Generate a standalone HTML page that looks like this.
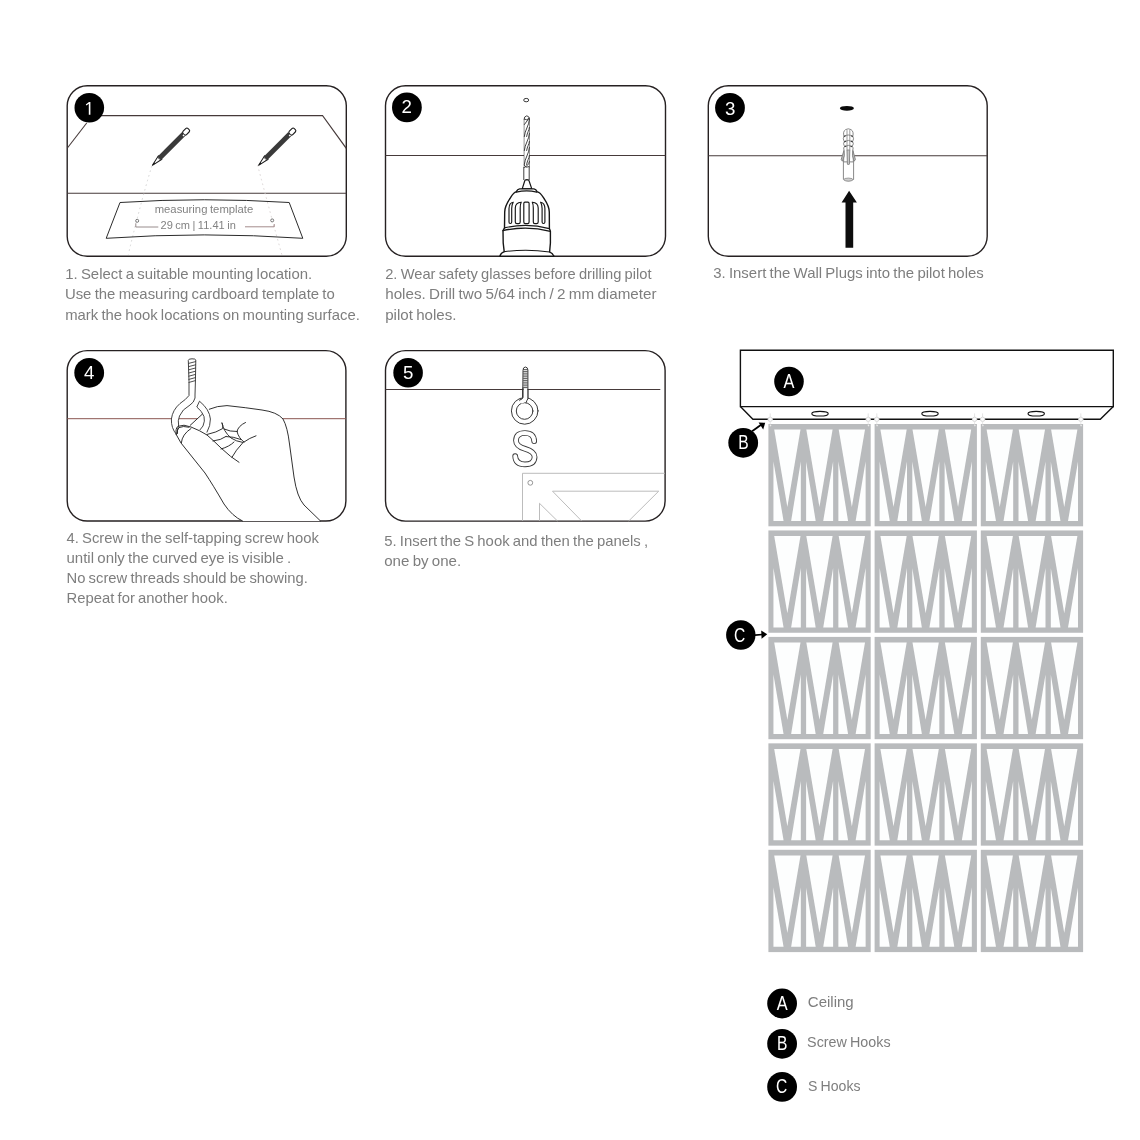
<!DOCTYPE html>
<html><head><meta charset="utf-8"><title>Installation instructions</title>
<style>
html,body{margin:0;padding:0;background:#fff;}
body{width:1140px;height:1140px;overflow:hidden;font-family:"Liberation Sans",sans-serif;}
svg{display:block;position:absolute;left:0;top:0;will-change:transform;}
text{font-family:"Liberation Sans",sans-serif;}
.cap{font-size:15px;fill:#7e7e7e;word-spacing:-0.9px;}
.sm{font-size:11.6px;fill:#828282;word-spacing:-0.6px;}
.num{font-size:18.7px;fill:#fff;text-anchor:middle;}
.let{font-size:19.5px;fill:#fff;text-anchor:middle;}
.box{fill:none;stroke:#262122;stroke-width:1.4;}
.ln{fill:none;stroke:#463a3a;stroke-width:1.1;}
.dk{fill:none;stroke:#1c1c1c;stroke-width:1;stroke-linecap:round;stroke-linejoin:round;}
.lt{fill:none;stroke:#a9a9a9;stroke-width:0.9;}
</style></head><body>
<svg width="1140" height="1140" viewBox="0 0 1140 1140">
<rect x="0" y="0" width="1140" height="1140" fill="#ffffff"/>
<defs>
<g id="pn">
<rect x="0" y="0" width="102.3" height="102.3" fill="#b9bbbd"/>
<g fill="#fdfefe">
<polygon points="5.8,5.6 32.1,5.6 18.95,82.9"/>
<polygon points="5.05,37.6 5.05,97 15.17,97"/>
<polygon points="32.4,37.6 32.4,97 22.73,97"/>
<polygon points="37.9,5.6 64.2,5.6 51.05,82.9"/>
<polygon points="37.7,37.6 37.7,97 47.27,97"/>
<polygon points="64.7,37.6 64.7,97 54.83,97"/>
<polygon points="70.3,5.6 96.6,5.6 83.45,82.9"/>
<polygon points="70,37.6 70,97 79.67,97"/>
<polygon points="97.2,37.6 97.2,97 87.23,97"/>
</g>
</g>
</defs>

<!-- ===== BOXES ===== -->
<g id="boxes">
<rect class="box" x="67.2" y="85.8" width="279.1" height="170.5" rx="20" ry="20"/>
<rect class="box" x="385.5" y="85.8" width="280" height="170.5" rx="20" ry="20"/>
<rect class="box" x="708.3" y="85.8" width="278.9" height="170.5" rx="20" ry="20"/>
<rect class="box" x="67.2" y="350.6" width="278.7" height="170.4" rx="20" ry="20"/>
<rect class="box" x="385.5" y="350.6" width="279.6" height="170.5" rx="20" ry="20"/>
</g>

<!-- ===== STEP 1 ===== -->
<g id="s1">
<path class="ln" d="M88,115.5 H322.5 L346.3,148.3" style="stroke-width:1.25"/>
<path class="ln" d="M86.7,123 L67.4,148"/>
<path class="ln" d="M67.2,193.3 H346.3"/>
<!-- dotted guide lines -->
<path d="M151.8,166 Q140,205 128.3,254.5" fill="none" stroke="#cfcfcf" stroke-width="0.9" stroke-dasharray="1.6 3.2"/>
<path d="M257.6,165 Q268,205 281.8,254.5" fill="none" stroke="#d6cfcf" stroke-width="0.9" stroke-dasharray="1.6 3.2"/>
<!-- measuring template -->
<path d="M120,202.5 Q204,197 289.2,202.5 L302.8,238.3 Q204,231.5 106.2,238.3 Z" fill="none" stroke="#2b2b2b" stroke-width="1" stroke-linejoin="miter"/>
<circle cx="137.2" cy="220.8" r="1.5" fill="#fff" stroke="#555" stroke-width="0.8"/>
<circle cx="272.2" cy="220.4" r="1.5" fill="#fff" stroke="#555" stroke-width="0.8"/>
<path d="M135.8,223.3 V227 H158.3" fill="none" stroke="#8c8080" stroke-width="0.9"/>
<path d="M245,226.8 H274.2 V224" fill="none" stroke="#9a7f7f" stroke-width="0.9"/>
<text class="sm" x="154.7" y="213.3" textLength="98.6" lengthAdjust="spacingAndGlyphs">measuring template</text>
<text class="sm" x="160.5" y="228.7" textLength="75.3" lengthAdjust="spacingAndGlyphs">29 cm | 11.41 in</text>
<!-- pencils -->
<g transform="translate(152.4,165.3) rotate(-45)">
<path d="M0,0 L11,-2.45 L11,2.45 Z" fill="#fff" stroke="#1a1a1a" stroke-width="1" stroke-linejoin="round"/>
<path d="M0,0 L3.4,-0.8 L3.4,0.8 Z" fill="#1a1a1a"/>
<rect x="9.6" y="-2.5" width="34.6" height="5" fill="#3a3a3a"/>
<path d="M9.6,-2.5 Q8.2,0 9.6,2.5 Z" fill="#3a3a3a"/>
<rect x="44.2" y="-2.4" width="7" height="4.8" rx="1.7" ry="1.7" fill="#fff" stroke="#1a1a1a" stroke-width="1.1"/>
<rect x="42.4" y="0.2" width="1.6" height="1.5" fill="#fff"/>
</g>
<g transform="translate(258.6,165.3) rotate(-45)">
<path d="M0,0 L11,-2.45 L11,2.45 Z" fill="#fff" stroke="#1a1a1a" stroke-width="1" stroke-linejoin="round"/>
<path d="M0,0 L3.4,-0.8 L3.4,0.8 Z" fill="#1a1a1a"/>
<rect x="9.6" y="-2.5" width="34.6" height="5" fill="#3a3a3a"/>
<path d="M9.6,-2.5 Q8.2,0 9.6,2.5 Z" fill="#3a3a3a"/>
<rect x="44.2" y="-2.4" width="7" height="4.8" rx="1.7" ry="1.7" fill="#fff" stroke="#1a1a1a" stroke-width="1.1"/>
<rect x="42.4" y="0.2" width="1.6" height="1.5" fill="#fff"/>
</g>

</g>

<!-- ===== STEP 2 ===== -->
<g id="s2">
<path class="ln" d="M385.5,155.5 H665.5"/>
<!-- pilot hole -->
<ellipse cx="526.2" cy="100.1" rx="2.5" ry="1.7" fill="#fff" stroke="#222" stroke-width="0.9"/>
<!-- drill bit -->
<path d="M524,118.5 Q524,116.4 526.8,115.8 Q529.6,116.4 529.6,118.5 V167.5 H529.2 V180 H523.8 V167.5 H524 Z" fill="#fff" stroke="none"/>
<path d="M523.8,167 V180 M529.2,167 V180" fill="none" stroke="#2a2a2a" stroke-width="0.9"/>
<path d="M524.1,119 V167.5 M529.5,119 V167.5" fill="none" stroke="#3a3a3a" stroke-width="0.55"/>
<g fill="none" stroke="#222" stroke-width="0.85" stroke-linecap="round">
<path d="M524.1,119 Q524,116.4 526.8,115.8 Q529.6,116.4 529.5,119"/>
<path d="M524.3,119.2 Q526.6,121 529.3,118.4"/>
<path d="M524.4,124.5 L528.8,118.6"/>
<path d="M524.3,136.5 C524.8,130 529,126 529.4,119.5"/>
<path d="M526.6,136.5 C527.2,132.5 529.2,130.5 529.4,127.5"/>
<path d="M524.3,150.5 C524.8,144 529,140 529.4,133.5"/>
<path d="M526.6,150.5 C527.2,146.5 529.2,144.5 529.4,141.5"/>
<path d="M524.3,164.5 C524.8,158 529,154 529.4,147.5"/>
<path d="M526.6,164.5 C527.2,160.5 529.2,158.5 529.4,155.5"/>
<path d="M524.6,167.4 C526,166.6 529,165 529.4,161.5"/>
<path d="M524.2,165.5 Q526.4,168.6 529.2,166.6"/>
</g>
<!-- chuck tip -->
<path d="M524.7,181 Q524.8,179.7 526.9,179.6 Q529,179.7 529.1,181 L531.8,188.9 H522.2 Z" fill="#fff" stroke="#161616" stroke-width="1.2" stroke-linejoin="round"/>
<!-- chuck body -->
<path d="M516.1,191.9 Q517.5,189.2 519.6,188.9 H534 Q536,189.2 537.2,191.9 C540.5,192.5 541.5,194.5 544,198.5 C547,203 549.2,206 549.3,212 L549.4,228.6 L550.4,231.2 V243 L549.6,251.9 Q552.8,253.2 553.9,256.2 H499.9 Q500.6,253.2 504.2,251.7 L503.2,243 L503,230.6 L504.5,227.8 L504.7,212 C504.8,206 507,203 510,198.5 C512.5,194.5 513.5,192.5 516.1,191.9 Z" fill="#fff" stroke="#161616" stroke-width="1.4" stroke-linejoin="round"/>
<g fill="none" stroke="#161616" stroke-width="1.15" stroke-linecap="round" stroke-linejoin="round">
<path d="M516.3,192.1 Q526.7,189.6 536.8,192.1"/>
<path d="M504.5,227.9 Q526.7,222.6 549.3,228.6"/>
<path d="M503,230.6 Q526.7,225.3 550.4,231.3" stroke-width="1.3"/>
<path d="M504.2,251.7 Q526.7,248.6 549.6,252"/>
<!-- slots -->
<path d="M509,222 V208.5 Q509.1,202.8 513.2,202.2 Q511.7,204.8 511.7,208.5 V222 Q511.7,223.5 510.3,223.5 Q509,223.5 509,222 Z"/>
<path d="M515.3,222 V208 Q515.4,202.6 521.2,202.2 Q520.2,204 520.2,208 V222 Q520.2,223.6 518.6,223.6 H517 Q515.3,223.6 515.3,222 Z"/>
<path d="M523.8,222 V203.4 Q523.8,202.1 525,202.1 H527.9 Q529.1,202.1 529.1,203.4 V222 Q529.1,223.6 527.6,223.6 H525.4 Q523.8,223.6 523.8,222 Z"/>
<path d="M538.2,222 V208 Q538.1,202.6 532.3,202.2 Q533.3,204 533.3,208 V222 Q533.3,223.6 534.9,223.6 H536.5 Q538.2,223.6 538.2,222 Z"/>
<path d="M544.9,222 V208.5 Q544.8,202.8 540.6,202.2 Q542.1,204.8 542.1,208.5 V222 Q542.1,223.5 543.5,223.5 Q544.9,223.5 544.9,222 Z"/>
</g>

</g>

<!-- ===== STEP 3 ===== -->
<g id="s3">
<path class="ln" d="M708.3,155.8 H987.2"/>
<!-- hole -->
<ellipse cx="846.9" cy="108.3" rx="7" ry="2.4" fill="#0a0a0a"/>
<!-- wall plug -->
<g stroke="#828282" stroke-width="0.95" fill="#fff" stroke-linejoin="round" stroke-linecap="round">
<path d="M843.4,161 V179.4 Q848.4,182.6 853.6,179.4 V161 Z"/>
<ellipse cx="848.5" cy="179.6" rx="4.6" ry="1.5" fill="#cfcfcf" stroke="#9a9a9a"/>
<path d="M843.6,161.5 L844,150 Q843,147.5 844.6,146.5 Q842.6,143.5 844.3,141.6 Q842.4,138.6 844,136.3 Q842.6,131.5 845.6,129.6 Q848.3,128 851,129.6 Q854,131.5 852.8,136.3 Q854.4,138.6 852.6,141.6 Q854.3,143.5 852.2,146.5 Q853.8,147.5 852.8,150 L853.4,161.5 Z"/>
<path d="M844,136.3 Q848.3,133.5 852.8,136.3 M844.3,141.6 Q848.3,139 852.6,141.6 M844.6,146.5 Q848.3,144 852.2,146.5" fill="none"/>
<path d="M847,130.5 V150 M849.8,130.5 V150" fill="none" stroke-width="0.8"/>
<path d="M843.8,151 L841.2,159.5 L842.4,161.2 L844.2,156 Z" fill="#bdbdbd"/>
<path d="M853,151 L855.4,159.5 L854.2,161.2 L852.6,156 Z" fill="#bdbdbd"/>
<path d="M847,150.5 L847.4,164 L848.4,165 L849.4,164 L849.8,150.5 Z" fill="#c9c9c9"/>
</g>
<path d="M844,136.6 l1.6,-0.9 M844.3,141.9 l1.6,-0.9 M844.6,146.8 l1.6,-0.9 M852.8,136.6 l-1.6,-0.9 M852.6,141.9 l-1.6,-0.9 M852.2,146.8 l-1.6,-0.9" stroke="#3c3c3c" stroke-width="1.1" fill="none"/>
<!-- arrow -->
<path d="M849.1,190.8 L856.9,202.5 H853.2 V247.8 H845.5 V202.5 H841.6 Z" fill="#0d0d0d"/>

</g>

<!-- ===== STEP 4 ===== -->
<g id="s4">
<path d="M67.2,418.7 H345.9" fill="none" stroke="#8a5550" stroke-width="1"/>
<!-- hand (white fill covers the wall line) -->
<path d="M190,425.5 L202.5,414 L208.5,409.5 Q217,405.8 227,405.6 Q246,407.6 262,410 Q277,412 283,419 Q287.5,427 289.5,444 L294,477 Q297,497 304,505 L320.5,521 H242.5 Q232,516 224,504 Q213,485 205,473 L181,443 L176,434 Q175.5,428.5 178,426.5 Q183.5,423.8 191,427 Z" fill="#fff" stroke="none"/>
<!-- screw hook -->
<g fill="#fff" stroke="#3a3a3a" stroke-width="0.95" stroke-linejoin="round" stroke-linecap="round">
<path d="M188.3,360 Q188.3,358.8 192,358.8 Q195.8,358.8 195.8,360 L195.4,382 L195,395 V398 Q194,402.5 190,405 Q182,409.5 179.5,416 Q177.6,421 178.6,425 L176.5,434.5 Q171,428 171.4,419 Q172.5,410 180,403.5 Q186,399.5 189,395.5 L189,382 Z"/>
<path d="M199.5,401.2 L196.8,407 Q202,411 204,416.5 Q205.2,421 203,426 L200,429.8 L207,432.2 Q210.6,425.5 210.4,419 Q209.6,409.5 199.5,401.2 Z" stroke="none"/><path d="M200,429.8 L203,426 Q205.2,421 204,416.5 Q202,411 196.8,407 L199.5,401.2 Q209.6,409.5 210.4,419 Q210.6,425.5 207,432.2" fill="none"/>
</g>
<g fill="none" stroke="#3a3a3a" stroke-width="0.9" stroke-linecap="round">
<path d="M188.6,363.4 L195.6,361.6 M188.7,366.6 L195.6,364.8 M188.7,369.8 L195.5,368 M188.8,373 L195.5,371.2 M188.8,376.2 L195.5,374.4 M188.9,379.4 L195.4,377.6 M189,382.4 L195.4,380.6"/>
</g>
<!-- hand outline -->
<g fill="none" stroke="#262626" stroke-width="0.95" stroke-linecap="round" stroke-linejoin="round">
<path d="M190.2,425.3 L202.3,414.2"/>
<path d="M209.3,409.2 Q217,405.8 227,405.6 Q246,407.6 262,410 Q277,412 283,419 Q287.5,427 289.5,444 L294,477 Q297,497 304,505 L320.5,521"/>
<path d="M176.2,434.5 Q175.2,428.5 178,426.3 Q183.5,423.8 191,427 Q200,430.5 207,435 Q214,441 221,448 Q231,457.5 239,462.3"/>
<path d="M177.4,433.5 Q176.8,429.5 179,427.6 Q183,425.6 189,427.2"/>
<path d="M181.4,442.6 Q182,434.5 191,428.5"/>
<path d="M176.2,434.5 L181,443 L205,473 Q213,485 224,504 Q232,516 242.5,521"/>
<path d="M207,434.5 Q217,432.3 222.6,428.6 Q223.6,426 222,423"/>
<path d="M222,423 Q223.2,431 231,438 Q236,441.4 243,442.5"/>
<path d="M213,441 Q221,440.2 226,436.5"/>
<path d="M221,449 Q229.5,446.6 234,442"/>
<path d="M224,429 Q230,431.8 237,431.5"/>
<path d="M226,436.5 Q233,436.5 241,439.5"/>
<path d="M237,431.5 Q238,426 245.5,422.5"/>
<path d="M237,431.5 Q238.5,438 244,442"/>
<path d="M244,442 Q249.5,438 256,435.8"/>
<path d="M243,442.5 Q235.5,450.5 232,457.2"/>
</g>

</g>

<!-- ===== STEP 5 ===== -->
<g id="s5">
<path class="ln" d="M385.5,389.5 H660.3"/>
<!-- panel corner -->
<g fill="none" stroke="#b4b4b4" stroke-width="0.9">
<path d="M522.5,521 V473.3 H665"/>
<circle cx="530.3" cy="482.8" r="2.4" stroke="#8c8c8c"/>
<path d="M581.7,521 L552.5,491.2 H658.7 L628.7,521"/>
<path d="M539.5,521 V503.3 L557.5,521"/>
</g>
<!-- screw eye -->
<g fill="#fff" stroke="#2e2e2e" stroke-width="0.95" stroke-linejoin="round" stroke-linecap="round">
<path d="M523,370 Q523,367.2 525.3,367 Q527.8,367.2 527.9,370 V398.5 L526.3,401 L523,398.6 Z"/>
<circle cx="524.7" cy="410.9" r="13.3"/>
<circle cx="524.6" cy="411" r="8.3"/>
<path d="M523,388 V397.6 Q522.6,399.6 520.2,400.6" fill="none"/>
<path d="M523.2,390 H527.7 V398.6 Q526.6,399.6 526,401.2 Q523.4,403 521.8,403.8 L519.6,399.8 Q522.6,399.2 523.2,397.2 Z" stroke="none"/>
<path d="M523,389.5 V397.4 Q522.6,399.4 519.4,400.2 M527.9,389.5 V398.8 Q527,399.8 526.2,402.4" fill="none"/>
</g>
<path d="M523.2,369.6 H527.6 M523.2,371.4 H527.6 M523.2,373.2 H527.6 M523.2,375 H527.6 M523.2,376.8 H527.6 M523.2,378.6 H527.6 M523.2,380.4 H527.6 M523.2,382.2 H527.6 M523.2,384 H527.6 M523.2,385.8 H527.6 M523.2,387.6 H527.6" stroke="#2e2e2e" stroke-width="0.8" fill="none"/>
<!-- S hook -->
<path id="sh" d="M534.2,441.2 Q533.8,433 525,433 Q516.2,433 516,440.4 Q516,446 525,448.8 Q534.6,451.6 534.6,457 Q534.4,464.4 525,464.4 Q515.6,464.4 515.2,456.2" fill="none" stroke="#3a3a3a" stroke-width="5.7" stroke-linecap="round" stroke-linejoin="round"/>
<path d="M534.2,441.2 Q533.8,433 525,433 Q516.2,433 516,440.4 Q516,446 525,448.8 Q534.6,451.6 534.6,457 Q534.4,464.4 525,464.4 Q515.6,464.4 515.2,456.2" fill="none" stroke="#fff" stroke-width="3.9" stroke-linecap="round" stroke-linejoin="round"/>

</g>

<!-- ===== NUMBER CIRCLES ===== -->
<g id="nums">
<circle cx="89.3" cy="107.7" r="14.8" fill="#000"/><path d="M85.8,104.4 L89,101.9 H90.4 V114.7 H88.8 V103.7 L86.4,105.6 Z" fill="#fff"/>
<circle cx="406.9" cy="107.4" r="14.9" fill="#000"/><text class="num" x="406.6" y="113.3">2</text>
<circle cx="730" cy="107.8" r="14.9" fill="#000"/><text class="num" x="730.2" y="114.7">3</text>
<circle cx="89.2" cy="372.8" r="14.9" fill="#000"/><text class="num" x="89.2" y="379.1">4</text>
<circle cx="408.1" cy="372.7" r="14.8" fill="#000"/><text class="num" x="408.1" y="379">5</text>
</g>

<!-- ===== CAPTIONS ===== -->
<g id="caps">
<text class="cap" x="65.2" y="278.8" textLength="247.0" lengthAdjust="spacingAndGlyphs">1. Select a suitable mounting location.</text>
<text class="cap" x="64.9" y="299.2" textLength="269.9" lengthAdjust="spacingAndGlyphs">Use the measuring cardboard template to</text>
<text class="cap" x="65.2" y="319.7" textLength="294.6" lengthAdjust="spacingAndGlyphs">mark the hook locations on mounting surface.</text>

<text class="cap" x="385.2" y="279" textLength="266.3" lengthAdjust="spacingAndGlyphs">2. Wear safety glasses before drilling pilot</text>
<text class="cap" x="385.2" y="299.3" textLength="271.3" lengthAdjust="spacingAndGlyphs">holes. Drill two 5/64 inch / 2 mm diameter</text>
<text class="cap" x="385.2" y="319.5" textLength="71.3" lengthAdjust="spacingAndGlyphs">pilot holes.</text>

<text class="cap" x="713.2" y="278.3" textLength="270.6" lengthAdjust="spacingAndGlyphs">3. Insert the Wall Plugs into the pilot holes</text>

<text class="cap" x="66.5" y="542.7" textLength="252.3" lengthAdjust="spacingAndGlyphs">4. Screw in the self-tapping screw hook</text>
<text class="cap" x="66.5" y="563.3" textLength="224.7" lengthAdjust="spacingAndGlyphs">until only the curved eye is visible .</text>
<text class="cap" x="66.5" y="583.3" textLength="241.3" lengthAdjust="spacingAndGlyphs">No screw threads should be showing.</text>
<text class="cap" x="66.5" y="603.3" textLength="161.3" lengthAdjust="spacingAndGlyphs">Repeat for another hook.</text>

<text class="cap" x="384.2" y="546" textLength="264.0" lengthAdjust="spacingAndGlyphs">5. Insert the S hook and then the panels ,</text>
<text class="cap" x="384.2" y="566" textLength="77.0" lengthAdjust="spacingAndGlyphs">one by one.</text>
</g>

<!-- ===== RIGHT FIGURE ===== -->
<g id="fig">
<!-- panels -->
<use href="#pn" x="768.4" y="424"/><use href="#pn" x="874.6" y="424"/><use href="#pn" x="980.8" y="424"/>
<use href="#pn" x="768.4" y="530.45"/><use href="#pn" x="874.6" y="530.45"/><use href="#pn" x="980.8" y="530.45"/>
<use href="#pn" x="768.4" y="636.9"/><use href="#pn" x="874.6" y="636.9"/><use href="#pn" x="980.8" y="636.9"/>
<use href="#pn" x="768.4" y="743.35"/><use href="#pn" x="874.6" y="743.35"/><use href="#pn" x="980.8" y="743.35"/>
<use href="#pn" x="768.4" y="849.8"/><use href="#pn" x="874.6" y="849.8"/><use href="#pn" x="980.8" y="849.8"/>
<!-- ceiling -->
<path d="M740.4,406.6 L752.9,419.3 H1100.3 L1113.3,406.6" fill="#fff" stroke="#111" stroke-width="1.4" stroke-linejoin="miter"/>
<path d="M740.4,350.3 H1113.3 V406.6 H740.4 Z" fill="#fff" stroke="#111" stroke-width="1.4" stroke-linejoin="miter"/>
<ellipse cx="820" cy="413.7" rx="8.2" ry="2.3" fill="#fff" stroke="#111" stroke-width="1.1"/>
<ellipse cx="930" cy="413.7" rx="8.2" ry="2.3" fill="#fff" stroke="#111" stroke-width="1.1"/>
<ellipse cx="1036.2" cy="413.7" rx="8.2" ry="2.3" fill="#fff" stroke="#111" stroke-width="1.1"/>
<g id="hooks">
<path d="M770.2,413.4 V417.2" stroke="#dcdcdc" stroke-width="0.8" fill="none"/><circle cx="770.2" cy="419.3" r="2.2" fill="#fafafa" stroke="#d6d6d6" stroke-width="0.9"/><path d="M770.2,421.5 V424.6" stroke="#e4e4e4" stroke-width="0.9" fill="none"/><circle cx="770.5" cy="425.6" r="0.8" fill="#ececec"/>
<path d="M868.2,413.4 V417.2" stroke="#dcdcdc" stroke-width="0.8" fill="none"/><circle cx="868.2" cy="419.3" r="2.2" fill="#fafafa" stroke="#d6d6d6" stroke-width="0.9"/><path d="M868.2,421.5 V424.6" stroke="#e4e4e4" stroke-width="0.9" fill="none"/><circle cx="868.5" cy="425.6" r="0.8" fill="#ececec"/>
<path d="M876.8,413.4 V417.2" stroke="#dcdcdc" stroke-width="0.8" fill="none"/><circle cx="876.8" cy="419.3" r="2.2" fill="#fafafa" stroke="#d6d6d6" stroke-width="0.9"/><path d="M876.8,421.5 V424.6" stroke="#e4e4e4" stroke-width="0.9" fill="none"/><circle cx="877.1" cy="425.6" r="0.8" fill="#ececec"/>
<path d="M974.6,413.4 V417.2" stroke="#dcdcdc" stroke-width="0.8" fill="none"/><circle cx="974.6" cy="419.3" r="2.2" fill="#fafafa" stroke="#d6d6d6" stroke-width="0.9"/><path d="M974.6,421.5 V424.6" stroke="#e4e4e4" stroke-width="0.9" fill="none"/><circle cx="974.9" cy="425.6" r="0.8" fill="#ececec"/>
<path d="M982.6,413.4 V417.2" stroke="#dcdcdc" stroke-width="0.8" fill="none"/><circle cx="982.6" cy="419.3" r="2.2" fill="#fafafa" stroke="#d6d6d6" stroke-width="0.9"/><path d="M982.6,421.5 V424.6" stroke="#e4e4e4" stroke-width="0.9" fill="none"/><circle cx="982.9" cy="425.6" r="0.8" fill="#ececec"/>
<path d="M1080.8,413.4 V417.2" stroke="#dcdcdc" stroke-width="0.8" fill="none"/><circle cx="1080.8" cy="419.3" r="2.2" fill="#fafafa" stroke="#d6d6d6" stroke-width="0.9"/><path d="M1080.8,421.5 V424.6" stroke="#e4e4e4" stroke-width="0.9" fill="none"/><circle cx="1081.1" cy="425.6" r="0.8" fill="#ececec"/>
</g>

<!-- labels -->
<circle cx="789" cy="381.5" r="14.8" fill="#000"/><text class="let" transform="translate(788.9,388) scale(0.84,1)" x="0" y="0">A</text>
<circle cx="743.2" cy="442.8" r="14.9" fill="#000"/><text class="let" transform="translate(743.4,449.1) scale(0.8,1)" x="0" y="0">B</text>
<path d="M752.1,431.3 L761.5,424.6" stroke="#000" stroke-width="1.8" fill="none"/>
<path d="M765.2,422.7 L758.6,422.6 L763.2,429.6 Z" fill="#000"/>
<circle cx="740.8" cy="635" r="14.7" fill="#000"/><text class="let" transform="translate(739.6,641.6) scale(0.8,1)" x="0" y="0">C</text>
<path d="M755,635.2 L762.5,634.5" stroke="#000" stroke-width="1.7" fill="none"/>
<path d="M767.2,634.3 L761.2,630.6 L761.6,638.8 Z" fill="#000"/>
</g>

<!-- ===== LEGEND ===== -->
<g id="legend">
<circle cx="782.1" cy="1003.5" r="14.9" fill="#000"/><text class="let" transform="translate(782.2,1009.8) scale(0.84,1)" x="0" y="0">A</text>
<circle cx="782.1" cy="1043.8" r="14.9" fill="#000"/><text class="let" transform="translate(782.1,1049.8) scale(0.8,1)" x="0" y="0">B</text>
<circle cx="782.1" cy="1086.9" r="14.9" fill="#000"/><text class="let" transform="translate(781.6,1092.8) scale(0.8,1)" x="0" y="0">C</text>
<text class="cap" style="font-size:15.2px" x="807.8" y="1007.4" textLength="45.9" lengthAdjust="spacingAndGlyphs">Ceiling</text>
<text class="cap" style="font-size:15.2px" x="807.1" y="1047.4" textLength="83.5" lengthAdjust="spacingAndGlyphs">Screw Hooks</text>
<text class="cap" style="font-size:15.2px" x="808.1" y="1090.6" textLength="52.4" lengthAdjust="spacingAndGlyphs">S Hooks</text>
</g>
</svg>
</body></html>
